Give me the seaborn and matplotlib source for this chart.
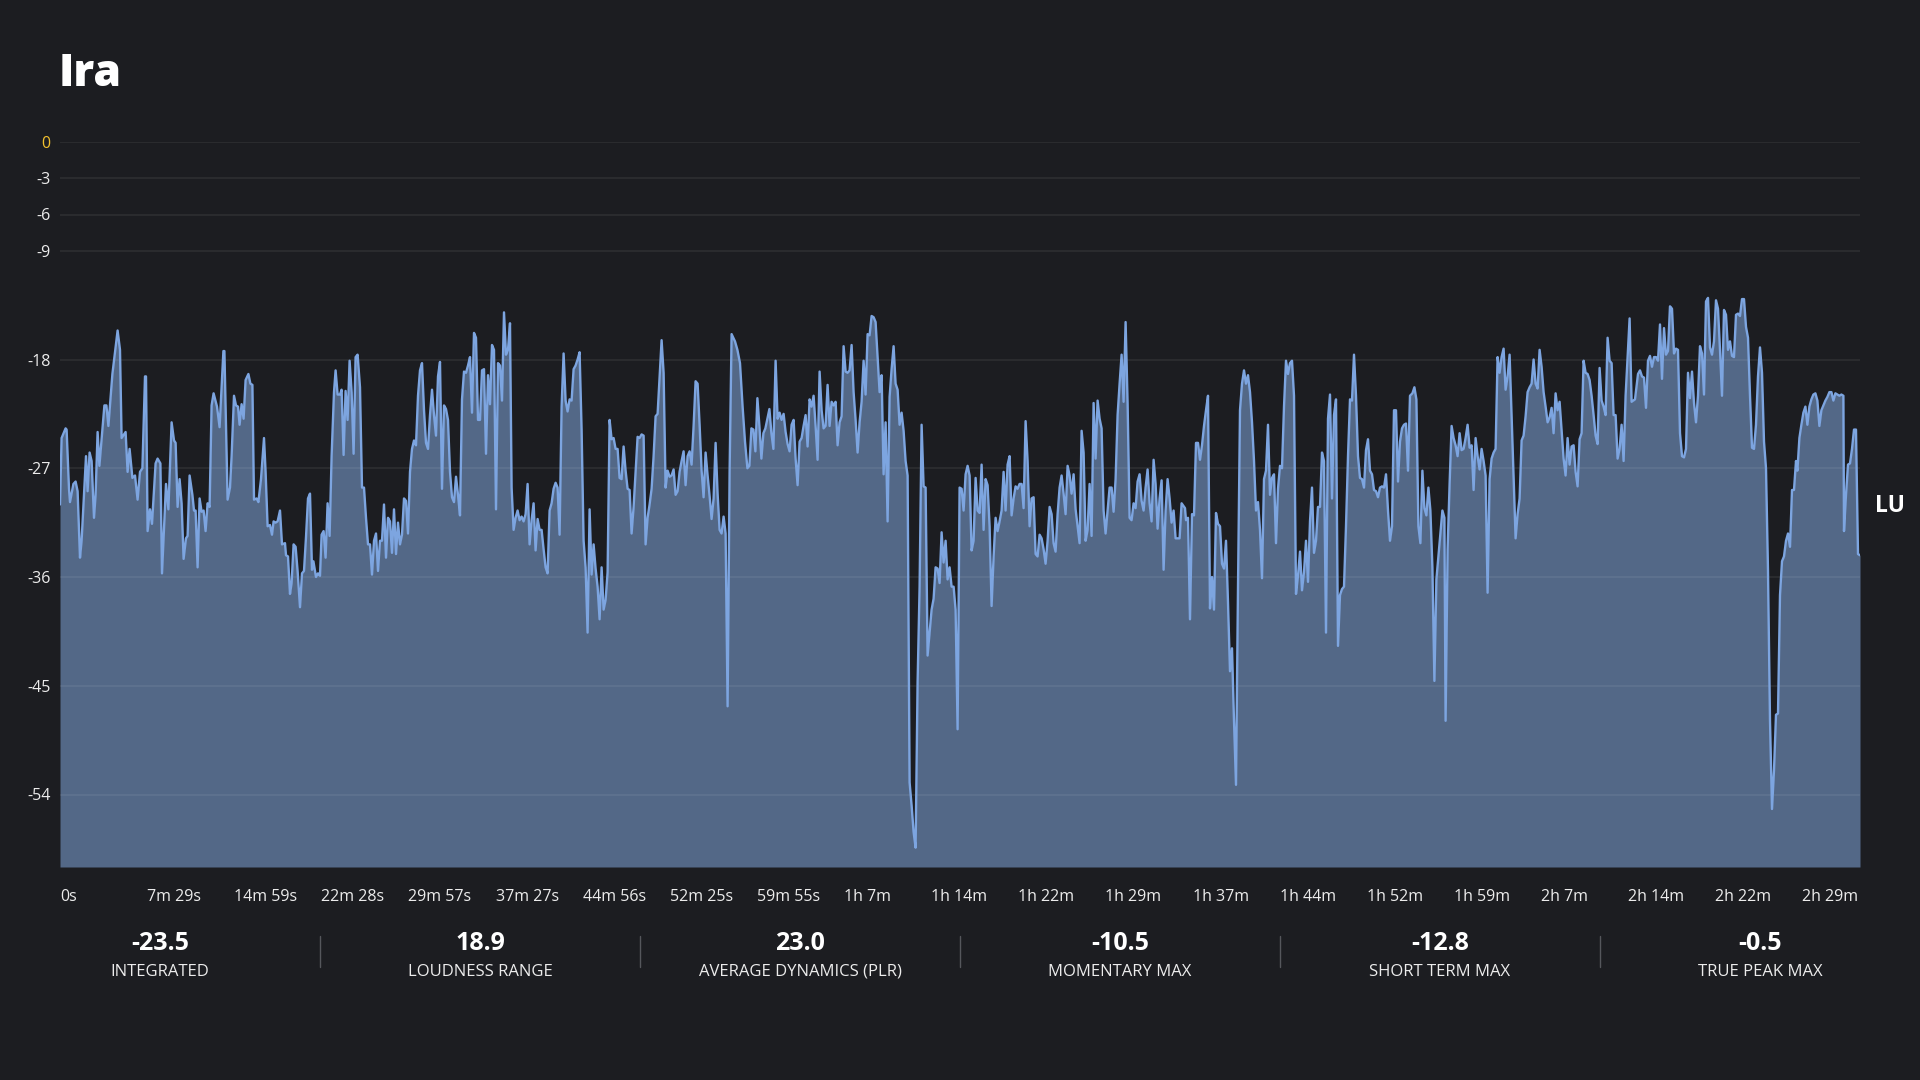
import matplotlib
matplotlib.use("Agg")
import matplotlib.pyplot as plt
from matplotlib.lines import Line2D
import pandas as pd
import seaborn as sns

# short-term loudness (LU), time in seconds
time_s = [
    # 0 - 19 min
    0, 8, 28, 33, 45, 50, 67, 78, 88, 100,
    108, 130, 138, 148, 158, 170, 178, 188, 197, 222,
    232, 242, 262, 288, 300, 308, 328, 338, 348, 362,
    375, 388, 400, 412, 425, 430, 438, 450, 460, 478,
    488, 502, 510, 530, 542, 558, 570, 578, 588, 598,
    608, 618, 630, 638, 648, 662, 670, 678, 688, 698,
    708, 718, 728, 738, 748, 758, 768, 785, 798, 817,
    822, 838, 850, 858, 870, 880, 890, 898, 908, 918,
    928, 942, 952, 962, 970, 983, 992, 1005, 1020, 1028,
    1038, 1050, 1060, 1068, 1078, 1088, 1100, 1110, 1125,
    # 19 - 37 min
    1130, 1140, 1150, 1158, 1168, 1178, 1188, 1200, 1210, 1220,
    1230, 1240, 1250, 1260, 1267, 1280, 1290, 1300, 1308, 1318,
    1328, 1338, 1348, 1358, 1370, 1378, 1388, 1400, 1408, 1418,
    1428, 1438, 1448, 1458, 1468, 1478, 1488, 1500, 1510, 1520,
    1530, 1540, 1550, 1560, 1570, 1580, 1590, 1600, 1610, 1620,
    1630, 1640, 1650, 1660, 1670, 1680, 1690, 1700, 1710, 1720,
    1730, 1740, 1750, 1760, 1770, 1780, 1790, 1800, 1810, 1820,
    1830, 1840, 1850, 1860, 1870, 1880, 1890, 1900, 1910, 1920,
    1930, 1940, 1950, 1960, 1970, 1980, 1990, 2000, 2010, 2020,
    2030, 2040, 2050, 2060, 2070, 2080, 2090, 2100, 2110, 2120,
    2130, 2140, 2150, 2160, 2170, 2180, 2190, 2200, 2210, 2220,
    2230, 2240, 2250,
    # 37 - 56 min
    2258, 2268, 2278, 2288, 2298, 2308, 2318, 2328, 2338, 2348,
    2358, 2368, 2378, 2388, 2398, 2408, 2418, 2428, 2438, 2448,
    2458, 2468, 2478, 2488, 2498, 2508, 2518, 2528, 2538, 2548,
    2558, 2568, 2578, 2588, 2598, 2608, 2618, 2628, 2638, 2648,
    2658, 2668, 2678, 2688, 2698, 2708, 2718, 2728, 2738, 2748,
    2758, 2768, 2778, 2788, 2798, 2808, 2818, 2828, 2838, 2848,
    2858, 2868, 2878, 2888, 2898, 2908, 2918, 2928, 2938, 2948,
    2958, 2968, 2978, 2988, 2998, 3008, 3018, 3028, 3038, 3048,
    3058, 3068, 3078, 3088, 3098, 3108, 3118, 3128, 3138, 3148,
    3158, 3168, 3178, 3188, 3198, 3208, 3218, 3228, 3238, 3248,
    3258, 3268, 3278, 3288, 3298, 3308, 3318, 3328, 3338, 3348,
    3358, 3375,
    # 56 - 75 min
    3387, 3400, 3413, 3425, 3437, 3447, 3457, 3467, 3477, 3487,
    3497, 3507, 3517, 3527, 3537, 3547, 3557, 3567, 3578, 3588,
    3598, 3608, 3618, 3628, 3638, 3648, 3658, 3668, 3678, 3688,
    3698, 3708, 3718, 3728, 3738, 3748, 3758, 3768, 3778, 3788,
    3798, 3808, 3818, 3828, 3838, 3848, 3858, 3868, 3878, 3888,
    3898, 3908, 3918, 3928, 3938, 3948, 3958, 3968, 3978, 3988,
    3998, 4008, 4018, 4028, 4038, 4048, 4058, 4068, 4078, 4088,
    4098, 4108, 4118, 4128, 4138, 4148, 4158, 4168, 4178, 4188,
    4198, 4208, 4218, 4228, 4238, 4248, 4258, 4268, 4278, 4288,
    4298, 4308, 4318, 4328, 4338, 4348, 4358, 4368, 4378, 4388,
    4398, 4408, 4418, 4428, 4438, 4448, 4458, 4468, 4478, 4488,
    4498,
    # 75 - 94 min
    4508, 4518, 4528, 4538, 4548, 4558, 4568, 4578, 4588, 4598,
    4608, 4618, 4628, 4638, 4648, 4658, 4668, 4678, 4688, 4698,
    4708, 4718, 4728, 4738, 4748, 4758, 4768, 4778, 4788, 4798,
    4808, 4818, 4828, 4838, 4848, 4858, 4868, 4878, 4888, 4898,
    4908, 4918, 4928, 4938, 4948, 4958, 4968, 4978, 4988, 4998,
    5008, 5018, 5028, 5038, 5048, 5058, 5068, 5078, 5088, 5098,
    5108, 5118, 5128, 5138, 5148, 5158, 5168, 5178, 5188, 5198,
    5208, 5218, 5228, 5238, 5248, 5258, 5268, 5278, 5288, 5298,
    5308, 5318, 5328, 5338, 5348, 5358, 5368, 5378, 5388, 5398,
    5408, 5418, 5428, 5438, 5448, 5458, 5468, 5478, 5488, 5498,
    5508, 5518, 5528, 5538, 5548, 5558, 5568, 5578, 5588, 5598,
    5608, 5625,
    # 94 - 112 min
    5630, 5640, 5650, 5660, 5670, 5680, 5690, 5700, 5710, 5720,
    5730, 5740, 5750, 5760, 5770, 5780, 5790, 5800, 5810, 5820,
    5830, 5840, 5850, 5860, 5870, 5880, 5890, 5900, 5910, 5920,
    5930, 5940, 5950, 5960, 5970, 5980, 5990, 6000, 6010, 6020,
    6030, 6040, 6050, 6060, 6070, 6080, 6090, 6100, 6110, 6120,
    6130, 6140, 6150, 6160, 6170, 6180, 6190, 6200, 6210, 6220,
    6230, 6240, 6250, 6260, 6270, 6280, 6290, 6300, 6310, 6320,
    6330, 6340, 6350, 6360, 6370, 6380, 6390, 6400, 6410, 6420,
    6430, 6440, 6450, 6460, 6470, 6480, 6490, 6500, 6510, 6520,
    6530, 6540, 6550, 6560, 6570, 6580, 6590, 6600, 6610, 6620,
    6630, 6640, 6650, 6660, 6670, 6680, 6690, 6700, 6710, 6720,
    6730, 6740, 6750,
    # 112 - 131 min
    6762, 6772, 6782, 6792, 6802, 6812, 6822, 6832, 6842, 6852,
    6862, 6872, 6882, 6892, 6902, 6912, 6922, 6928, 6938, 6948,
    6958, 6968, 6978, 6988, 6998, 7008, 7018, 7028, 7038, 7048,
    7058, 7068, 7078, 7088, 7098, 7108, 7118, 7128, 7138, 7148,
    7158, 7168, 7178, 7188, 7198, 7208, 7218, 7228, 7238, 7248,
    7258, 7268, 7278, 7288, 7298, 7308, 7318, 7328, 7338, 7348,
    7358, 7368, 7378, 7388, 7398, 7408, 7418, 7428, 7438, 7448,
    7458, 7468, 7478, 7488, 7498, 7508, 7518, 7528, 7538, 7548,
    7558, 7568, 7578, 7588, 7598, 7608, 7618, 7628, 7638, 7648,
    7658, 7668, 7678, 7688, 7698, 7708, 7718, 7728, 7738, 7748,
    7758, 7768, 7778, 7788, 7798, 7808, 7818, 7828, 7838, 7848,
    7858, 7875,
    # 131 - 150 min
    7890, 7900, 7910, 7920, 7930, 7940, 7950, 7960, 7970, 7980,
    7990, 8000, 8010, 8020, 8030, 8040, 8050, 8060, 8070, 8080,
    8090, 8100, 8110, 8120, 8130, 8140, 8150, 8160, 8170, 8180,
    8190, 8200, 8210, 8220, 8230, 8240, 8250, 8260, 8270, 8280,
    8290, 8300, 8310, 8320, 8330, 8340, 8350, 8360, 8370, 8380,
    8390, 8400, 8410, 8420, 8430, 8440, 8450, 8460, 8470, 8480,
    8490, 8500, 8510, 8520, 8530, 8540, 8550, 8560, 8570, 8580,
    8590, 8600, 8610, 8620, 8630, 8640, 8650, 8660, 8670, 8680,
    8687, 8697, 8707, 8717, 8727, 8737, 8747, 8757, 8767, 8777,
    8787, 8797, 8807, 8817, 8827, 8837, 8847, 8857, 8867, 8877,
    8887, 8897, 8907, 8917, 8920, 8930, 8940, 8950, 8960, 8970,
    8980, 8990, 9000,
]

short_term_lu = [
    -30.0, -24.5, -23.7, -23.8, -28.7, -29.8, -28.3, -28.1, -28.9, -34.4,
    -33.0, -26.0, -28.9, -25.7, -26.4, -31.1, -29.2, -24.0, -26.8, -21.8,
    -21.8, -23.5, -19.2, -15.6, -17.2, -24.5, -24.0, -27.3, -25.4, -27.8,
    -27.6, -29.6, -27.3, -27.0, -19.4, -19.4, -32.2, -30.4, -31.6, -26.6,
    -26.2, -26.6, -35.7, -28.3, -30.4, -23.2, -24.7, -24.9, -30.2, -27.9,
    -29.9, -34.5, -32.8, -32.6, -27.6, -29.2, -30.5, -30.5, -35.2, -29.5,
    -30.6, -30.5, -32.2, -29.9, -30.2, -21.8, -20.8, -21.9, -23.6, -17.3,
    -17.3, -29.6, -28.6, -26.0, -21.0, -21.8, -21.9, -23.4, -21.7, -22.9,
    -19.7, -19.2, -20.0, -20.1, -29.6, -29.5, -29.8, -27.9, -24.5, -27.3,
    -31.8, -31.7, -32.5, -31.4, -31.5, -31.4, -30.5, -33.3, -33.2,

    -34.2, -34.3, -37.4, -36.5, -33.3, -33.5, -35.5, -38.5, -35.7, -35.5,
    -32.7, -29.5, -29.1, -35.4, -34.7, -36.0, -35.7, -35.9, -32.5, -32.2,
    -34.4, -29.9, -32.6, -26.0, -20.7, -18.9, -20.9, -20.9, -20.5, -25.9,
    -20.6, -23.0, -18.1, -20.7, -25.8, -17.8, -17.6, -20.3, -28.6, -28.6,
    -31.1, -33.3, -33.3, -35.8, -33.0, -32.4, -35.5, -33.0, -33.0, -30.0,
    -34.4, -31.1, -31.4, -34.0, -30.4, -34.1, -31.5, -33.3, -32.5, -29.5,
    -29.7, -32.4, -27.3, -25.4, -24.7, -25.1, -21.0, -18.9, -18.3, -22.2,
    -24.9, -25.4, -22.6, -20.5, -22.6, -24.3, -19.4, -18.2, -28.7, -21.8,
    -22.1, -23.0, -27.3, -29.4, -29.8, -27.7, -29.2, -30.9, -21.3, -19.0,
    -19.1, -18.5, -17.8, -22.4, -15.8, -16.2, -23.0, -23.0, -18.9, -18.8,
    -25.8, -19.3, -21.7, -16.8, -17.2, -30.4, -18.3, -18.5, -21.4, -14.1,
    -17.6, -17.2, -15.0,

    -28.6, -32.1, -31.1, -30.5, -31.3, -31.0, -31.4, -30.8, -28.3, -33.3,
    -31.3, -29.9, -33.8, -31.2, -32.1, -32.1, -33.7, -35.2, -35.7, -30.5,
    -29.9, -28.7, -28.2, -28.6, -32.5, -21.9, -17.5, -21.4, -22.3, -21.3,
    -21.4, -18.8, -18.5, -18.0, -17.4, -23.8, -33.0, -35.2, -40.6, -30.4,
    -35.8, -33.3, -35.3, -36.8, -39.5, -35.2, -38.7, -37.9, -35.6, -23.0,
    -24.6, -24.5, -25.4, -25.4, -27.8, -27.9, -25.2, -27.2, -28.7, -28.8,
    -32.4, -30.2, -27.3, -24.4, -24.5, -24.2, -24.3, -33.3, -31.1, -30.0,
    -28.7, -26.0, -22.7, -22.5, -19.4, -16.4, -19.1, -28.6, -27.2, -27.7,
    -27.6, -27.1, -29.2, -28.9, -27.3, -26.4, -25.6, -28.4, -26.0, -25.6,
    -26.7, -23.5, -19.8, -20.0, -23.4, -27.2, -29.4, -25.7, -27.6, -29.3,
    -31.2, -29.5, -24.9, -29.1, -32.1, -32.4, -31.0, -32.4, -46.7, -27.3,
    -15.9, -16.5,

    -17.2, -18.3, -21.9, -24.8, -27.0, -26.8, -23.7, -23.8, -25.6, -21.2,
    -23.5, -26.2, -24.1, -23.7, -22.9, -22.1, -24.1, -25.4, -18.1, -22.9,
    -22.4, -23.0, -22.5, -24.0, -25.0, -25.6, -23.4, -23.0, -26.2, -28.4,
    -24.8, -24.5, -23.5, -22.6, -25.2, -21.3, -21.9, -21.0, -23.5, -26.3,
    -19.0, -22.2, -23.7, -23.5, -20.1, -23.5, -21.5, -21.8, -21.5, -25.1,
    -23.2, -22.7, -16.9, -19.0, -19.1, -18.9, -16.8, -20.7, -23.0, -25.7,
    -23.2, -21.5, -18.1, -20.9, -15.9, -16.0, -14.4, -14.5, -14.9, -17.8,
    -20.7, -19.3, -27.5, -23.2, -31.4, -21.1, -18.8, -16.9, -20.0, -20.5,
    -23.4, -22.4, -23.9, -26.4, -27.6, -53.0, -54.9, -57.1, -58.4, -44.7,
    -36.8, -23.4, -28.5, -28.6, -42.5, -40.6, -38.7, -37.8, -35.2, -35.3,
    -36.5, -32.3, -34.8, -33.0, -36.2, -35.2, -36.8, -36.8, -38.7, -48.6,
    -28.6,

    -28.7, -30.5, -27.5, -26.8, -27.6, -33.8, -33.0, -27.8, -30.5, -30.7,
    -26.7, -32.1, -27.9, -28.4, -31.8, -38.4, -34.3, -31.1, -32.2, -31.4,
    -30.5, -27.3, -30.5, -26.7, -26.0, -30.9, -29.5, -28.5, -28.7, -28.3,
    -28.3, -30.3, -23.1, -26.4, -31.8, -29.5, -29.4, -34.1, -34.3, -32.5,
    -32.8, -33.7, -34.9, -33.0, -30.2, -30.8, -33.2, -33.9, -30.8, -28.6,
    -27.6, -29.1, -30.8, -26.8, -27.6, -29.1, -27.5, -30.4, -31.8, -33.2,
    -23.9, -25.7, -33.0, -32.1, -28.3, -32.6, -21.6, -26.2, -21.4, -22.9,
    -23.7, -30.5, -32.4, -30.5, -28.6, -28.6, -30.6, -27.9, -22.6, -20.0,
    -17.6, -21.5, -14.9, -21.6, -31.1, -31.3, -29.9, -30.3, -28.1, -27.5,
    -29.7, -30.5, -28.6, -27.1, -29.9, -31.4, -26.3, -28.3, -32.0, -29.5,
    -28.0, -35.4, -30.5, -27.9, -29.5, -31.5, -30.5, -32.8, -32.8, -32.8,
    -29.9, -30.3,

    -31.3, -31.1, -39.5, -30.8, -30.9, -24.9, -24.9, -26.3, -25.1, -23.5,
    -22.2, -21.0, -38.6, -36.0, -38.7, -30.7, -31.6, -31.8, -34.9, -35.3,
    -33.0, -38.1, -43.8, -41.9, -47.9, -53.2, -36.8, -22.2, -20.0, -18.9,
    -20.0, -19.3, -20.7, -23.2, -26.4, -30.5, -29.8, -32.1, -36.1, -27.9,
    -27.2, -23.4, -29.2, -27.8, -27.5, -33.2, -28.7, -26.8, -27.0, -21.9,
    -18.1, -19.2, -18.3, -18.1, -21.0, -37.4, -35.9, -33.9, -37.1, -35.6,
    -33.0, -36.4, -31.4, -28.6, -34.0, -33.0, -30.2, -30.2, -25.7, -26.4,
    -40.6, -22.9, -20.9, -29.5, -22.6, -21.3, -41.7, -37.5, -37.0, -36.8,
    -31.8, -26.0, -21.3, -21.4, -17.6, -21.0, -26.0, -27.8, -27.9, -28.6,
    -25.5, -24.6, -27.2, -27.5, -28.8, -28.9, -29.4, -28.6, -28.5, -28.6,
    -27.5, -30.5, -33.0, -31.8, -22.2, -22.2, -28.1, -24.8, -23.7, -23.4,
    -23.3, -27.2, -21.0,

    -20.8, -20.3, -21.3, -31.8, -33.2, -27.2, -30.3, -30.9, -28.6, -30.5,
    -35.2, -44.6, -36.2, -34.3, -32.4, -30.5, -31.1, -47.9, -33.7, -28.3,
    -23.5, -24.5, -25.1, -26.0, -24.1, -25.5, -25.4, -24.5, -23.4, -25.3,
    -25.1, -28.8, -24.5, -26.0, -27.1, -25.4, -26.4, -27.6, -37.3, -27.9,
    -26.2, -25.7, -25.4, -17.8, -19.1, -17.8, -17.1, -20.5, -19.4, -17.6,
    -22.6, -27.6, -32.8, -30.8, -29.5, -24.7, -24.3, -22.7, -20.7, -20.3,
    -20.0, -18.0, -20.0, -20.4, -17.2, -18.6, -20.7, -21.9, -23.2, -22.8,
    -22.0, -24.1, -20.8, -22.2, -21.5, -23.8, -26.2, -27.6, -24.5, -26.7,
    -25.2, -25.1, -27.3, -28.5, -24.6, -24.1, -18.1, -19.1, -19.2, -19.7,
    -21.0, -22.6, -24.3, -25.0, -18.7, -21.4, -21.9, -22.6, -16.2, -18.1,
    -18.3, -22.6, -22.6, -26.2, -25.4, -23.4, -26.4, -21.0, -17.8, -14.6,
    -21.5, -21.3,

    -19.2, -18.9, -19.4, -19.5, -22.0, -18.1, -17.7, -18.6, -17.8, -17.8,
    -18.1, -15.1, -19.6, -15.4, -17.6, -17.3, -13.6, -13.8, -17.5, -17.1,
    -17.2, -24.1, -26.0, -26.1, -25.4, -19.1, -21.2, -19.0, -21.6, -23.2,
    -21.0, -16.9, -17.5, -20.9, -13.2, -12.9, -17.0, -17.6, -16.5, -13.1,
    -13.8, -17.2, -21.0, -13.9, -14.3, -17.2, -16.5, -17.7, -17.8, -14.3,
    -14.2, -14.4, -13.0, -13.0, -15.3, -16.2, -21.0, -25.3, -25.4, -23.4,
    -19.4, -17.0, -19.1, -24.8, -27.0, -35.5, -47.9, -55.2, -52.0, -47.4,
    -47.3, -37.5, -34.7, -34.3, -33.0, -32.4, -33.5, -28.8, -28.8, -26.4,
    -27.2, -24.5, -23.4, -22.4, -21.9, -23.4, -21.9, -21.3, -20.9, -20.8,
    -21.4, -23.5, -22.2, -21.8, -21.4, -21.1, -20.7, -20.7, -21.4, -20.8,
    -20.9, -21.0, -20.9, -21.0, -32.2, -29.2, -26.7, -26.6, -25.4, -23.8,
    -23.8, -34.1, -34.2,
]

y_ticks = [0, -3, -6, -9, -18, -27, -36, -45, -54]
x_tick_labels = ["0s", "7m 29s", "14m 59s", "22m 28s", "29m 57s", "37m 27s",
                 "44m 56s", "52m 25s", "59m 55s", "1h 7m", "1h 14m", "1h 22m",
                 "1h 29m", "1h 37m", "1h 44m", "1h 52m", "1h 59m", "2h 7m",
                 "2h 14m", "2h 22m", "2h 29m"]
stat_values = ["-23.5", "18.9", "23.0", "-10.5", "-12.8", "-0.5"]
stat_names = ["INTEGRATED", "LOUDNESS RANGE", "AVERAGE DYNAMICS (PLR)",
              "MOMENTARY MAX", "SHORT TERM MAX", "TRUE PEAK MAX"]

BG = "#1c1d21"
LINE = "#7da5e0"
FILL = "#536887"
TEXT = "#ececec"

sns.set_theme(style="dark", rc={
    "figure.facecolor": BG,
    "axes.facecolor": BG,
    "savefig.facecolor": BG,
    "text.color": TEXT,
    "xtick.color": TEXT,
    "ytick.color": TEXT,
})
plt.rcParams["font.family"] = ["Open Sans", "DejaVu Sans"]

df = pd.DataFrame({"t": time_s, "lu": short_term_lu})
t_end = df["t"].max()

fig = plt.figure(figsize=(19.2, 10.8), dpi=100)
ax = fig.add_axes([60 / 1920, 213 / 1080, 1800 / 1920, 725 / 1080])

ax.fill_between(df["t"], df["lu"], -60, color=FILL, lw=0, zorder=1)
sns.lineplot(data=df, x="t", y="lu", ax=ax, color=LINE, lw=1.7,
             estimator=None, sort=False, zorder=3)

ax.set_xlim(0, t_end)
ax.set_ylim(-60, 0)
for s in ax.spines.values():
    s.set_visible(False)
ax.set_xlabel("")
ax.set_ylabel("")

# grid on top of the fill, under the line
ax.set_axisbelow(False)
ax.set_yticks(y_ticks)
ax.set_yticklabels([str(v) for v in y_ticks])
ax.yaxis.grid(True, color="white", alpha=0.07, lw=1.3, zorder=2)
ax.xaxis.grid(False)
ax.tick_params(axis="y", length=0, pad=7, labelsize=11.5)
ax.get_yticklabels()[0].set_color("#f2c12e")

# labels spread evenly, left aligned, like the reference
x_pos = [t_end * i * 71.15 / 1470 for i in range(len(x_tick_labels))]
ax.set_xticks(x_pos)
ax.set_xticklabels(x_tick_labels)
for lab in ax.get_xticklabels():
    lab.set_horizontalalignment("left")
ax.tick_params(axis="x", length=0, pad=16, labelsize=11.5)

fig.text(0.0307, 0.9206, "Ira", fontsize=32, fontweight="heavy",
         color="white", ha="left", va="baseline")
fig.text(0.9766, 0.526, "LU", fontsize=16.5, fontweight="bold",
         color="white", ha="left", va="baseline")

for k, (val, name) in enumerate(zip(stat_values, stat_names)):
    cx = (2 * k + 1) / 12
    fig.text(cx, 0.1204, val, fontsize=18, fontweight="bold",
             color="white", ha="center", va="baseline")
    fig.text(cx, 0.0963, name, fontsize=12, color=TEXT,
             ha="center", va="baseline")
    if k > 0:
        fig.add_artist(Line2D([k / 6, k / 6], [0.105, 0.133],
                              transform=fig.transFigure,
                              color="#55575c", lw=1))

fig.savefig("out.png", dpi=100, facecolor=BG)
